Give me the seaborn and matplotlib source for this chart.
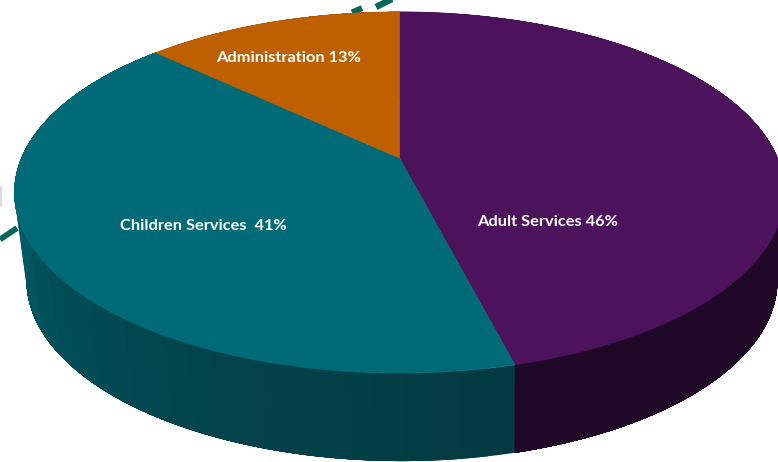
import numpy as np
import matplotlib
matplotlib.use("Agg")
import matplotlib.pyplot as plt
import seaborn as sns

# Budget split, starting at twelve o'clock and running clockwise
categories = ["Adult Services", "Children Services", "Administration"]
shares = [46, 41, 13]
label_texts = ["Adult Services 46%", "Children Services  41%", "Administration 13%"]
top_colors = ["#4c125c", "#006a76", "#bf6000"]
label_centres = [(548, 222), (203, 226), (289, 58)]
wall_ramps = [
    ["#21082a", "#1f0727"],
    ["#033a41", "#02474f", "#005a66", "#006570"],
    ["#7a3d00", "#7a3d00"],
]

sns.set_theme(style="white")
plt.rcParams["font.family"] = ["Lato", "DejaVu Sans"]

W, H = 778, 462
fig = plt.figure(figsize=(W / 100, H / 100), dpi=100)
ax = fig.add_axes([0, 0, 1, 1])
ax.set_xlim(0, W)
ax.set_ylim(H, 0)
ax.axis("off")

# Tilted-disc projection: the near edge of the disc appears larger than the far edge,
# and the underside of the disc is a little narrower than its top
cx, cy, rx, ry, tilt, depth, taper, drift = 399.5, 158.0, 378.0, 174.0, 0.191, 88.0, 0.975, 2.5


def project(theta):
    s, c = np.sin(theta), np.cos(theta)
    d = 1 + tilt * s
    return cx + rx * c / d, cy - ry * s / d


# Dashed accent line that passes behind the disc, and a small grey mark at the edge
ax.plot([0, 17], [239.5, 228], color="#05665c", lw=4.2, solid_capstyle="butt", zorder=1)
ax.plot([352, 362], [12.5, 8], color="#05665c", lw=4.2, solid_capstyle="butt", zorder=1)
ax.plot([376, 392], [7, -1], color="#05665c", lw=4.6, solid_capstyle="butt", zorder=1)
ax.plot([0.5, 0.5], [187, 206], color="#d5d5d8", lw=1.2, zorder=1)

edges = np.pi / 2 - 2 * np.pi * np.cumsum([0] + shares) / sum(shares)

# Side wall: each strip runs to the end of its slice and the next one paints over it,
# which leaves no hairline gaps between the shading steps
for i in range(len(shares)):
    start, stop = edges[i], edges[i + 1]
    n = max(int(abs(stop - start) / 0.06), 2)
    ts = np.linspace(start, stop, n + 1)
    ramp = sns.blend_palette(wall_ramps[i], n)
    for k in range(n):
        seg = np.linspace(ts[k], stop, 120)
        x, y = project(seg)
        xb = cx + drift + (x - cx) * taper
        ax.fill(np.r_[x, xb[::-1]], np.r_[y, (y + depth)[::-1]],
                color=ramp[k], lw=0, zorder=2 + i * 0.1 + k * 1e-4)

# Top faces of the three slices
for i in range(len(shares)):
    ts = np.linspace(edges[i], edges[i + 1], 240)
    x, y = project(ts)
    ax.fill(np.r_[cx, x], np.r_[cy, y], color=top_colors[i], lw=0.5, zorder=3)

for text, (lx, ly) in zip(label_texts, label_centres):
    ax.text(lx, ly, text, color="white", fontsize=11.8, fontweight="bold",
            ha="center", va="center", zorder=4)

fig.savefig("out.png", dpi=100, facecolor="white")
